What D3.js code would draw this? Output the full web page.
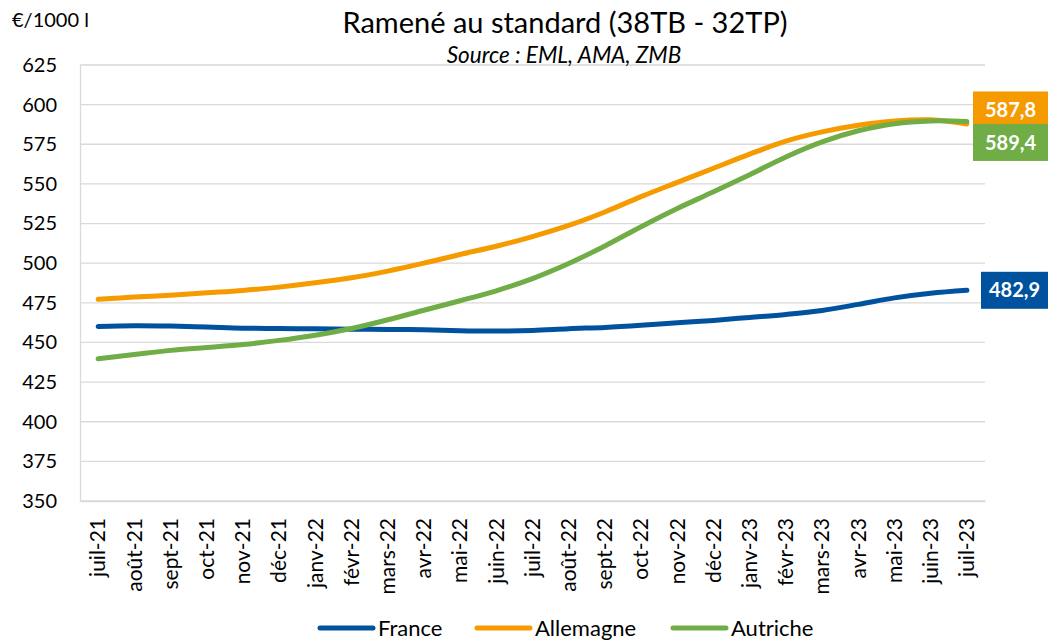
<!DOCTYPE html>
<html>
<head>
<meta charset="utf-8">
<script src="https://cdn.jsdelivr.net/npm/d3@7"></script>
<style>
  body { margin: 0; background: #fff; }
  svg { font-family: Lato, "Open Sans", sans-serif; }
</style>
</head>
<body>
<svg id="chart" width="1048" height="640"></svg>
<script>
// months on the x axis
const months = ['juil-21', 'août-21', 'sept-21', 'oct-21', 'nov-21', 'déc-21', 'janv-22', 'févr-22',
    'mars-22', 'avr-22', 'mai-22', 'juin-22', 'juil-22', 'août-22', 'sept-22', 'oct-22', 'nov-22',
    'déc-22', 'janv-23', 'févr-23', 'mars-23', 'avr-23', 'mai-23', 'juin-23', 'juil-23'];

// prices in €/1000 l
const france = [460.1, 460.5, 460.3, 459.7, 459.0, 458.8, 458.6, 458.4, 458.2, 458.0, 457.4, 457.2,
    457.6, 458.7, 459.5, 460.8, 462.4, 463.9, 465.8, 467.7, 470.2, 474.0, 478.1, 481.0, 482.9];
const allemagne = [477.2, 478.6, 479.8, 481.3, 482.8, 484.9, 487.6, 490.8, 495.0, 500.0, 505.5, 510.7,
    516.8, 523.8, 532.3, 542.0, 551.0, 559.9, 568.8, 577.0, 582.8, 587.0, 589.7, 590.4, 587.8];
const autriche = [439.7, 442.4, 445.0, 446.8, 448.7, 451.3, 454.6, 458.8, 464.3, 470.3, 476.3, 482.6,
    490.3, 499.8, 510.9, 523.0, 534.5, 545.0, 555.8, 567.0, 576.5, 583.5, 588.0, 589.7, 589.4];

const yTicks = [350, 375, 400, 425, 450, 475, 500, 525, 550, 575, 600, 625];

const series = [
    { name: 'France', values: france, color: '#00529f', last: '482,9', shift: 0 },
    { name: 'Allemagne', values: allemagne, color: '#f59b00', last: '587,8', shift: -14 },
    { name: 'Autriche', values: autriche, color: '#70ad47', last: '589,4', shift: 21 }
];

const svg = d3.select('#chart');
const plotLeft = 80, plotRight = 985, plotTop = 65, plotBottom = 501;

const x = d3.scaleBand().domain(months).range([plotLeft, plotRight]);
const y = d3.scaleLinear().domain([350, 625]).range([plotBottom, plotTop]);

// grid lines
svg.append('g').selectAll('line').data(yTicks).join('line')
    .attr('x1', plotLeft).attr('x2', plotRight)
    .attr('y1', d => y(d)).attr('y2', d => y(d))
    .attr('stroke', '#d9d9d9').attr('stroke-width', 1.3);

// y axis
const yAxis = svg.append('g').attr('transform', `translate(${plotLeft},0)`)
    .call(d3.axisLeft(y).tickValues(yTicks).tickSize(0).tickPadding(23));
yAxis.select('.domain').attr('stroke', '#d9d9d9').attr('stroke-width', 1.3);
yAxis.selectAll('text').attr('font-size', 20).attr('fill', '#000')
    .attr('font-family', 'Lato, sans-serif');

// x axis
const xAxis = svg.append('g').attr('transform', `translate(0,${plotBottom})`)
    .call(d3.axisBottom(x).tickSize(0).tickPadding(0));
xAxis.select('.domain').attr('stroke', '#d9d9d9').attr('stroke-width', 1.3);
xAxis.selectAll('text')
    .attr('font-size', 21).attr('fill', '#000').attr('font-family', 'Lato, sans-serif')
    .attr('text-anchor', 'end').attr('dy', '0.35em')
    .attr('transform', 'translate(0,17) rotate(-90)').attr('x', 0).attr('y', 0);

// lines
const line = d3.line()
    .x((d, i) => x(months[i]) + x.bandwidth() / 2)
    .y(d => y(d))
    .curve(d3.curveCatmullRom);

series.forEach(s => {
    svg.append('path').datum(s.values)
        .attr('fill', 'none').attr('stroke', s.color)
        .attr('stroke-width', 5).attr('stroke-linecap', 'round')
        .attr('d', line);
});

// end labels
series.forEach(s => {
    const cy = y(s.values[s.values.length - 1]) + s.shift;
    const w = s.name === 'France' ? 67 : 75;
    svg.append('rect')
        .attr('x', 1048 - w).attr('y', cy - 18.5)
        .attr('width', w).attr('height', 37)
        .attr('fill', s.color);
    svg.append('text')
        .attr('x', 1048 - w / 2).attr('y', cy).attr('dy', '0.36em')
        .attr('text-anchor', 'middle').attr('fill', '#fff')
        .attr('font-size', 20).attr('font-weight', 'bold')
        .text(s.last);
});

// title, source, unit
svg.append('text').attr('x', 565).attr('y', 33).attr('text-anchor', 'middle')
    .attr('font-size', 29).text('Ramené au standard (38TB - 32TP)');
svg.append('text').attr('x', 564).attr('y', 63).attr('text-anchor', 'middle')
    .attr('font-size', 22.5).attr('font-style', 'italic').text('Source : EML, AMA, ZMB');
svg.append('text').attr('x', 12).attr('y', 27)
    .attr('font-size', 20).text('€/1000 l');

// legend
const legendX = [320, 477, 673];
series.forEach((s, i) => {
    svg.append('line')
        .attr('x1', legendX[i]).attr('x2', legendX[i] + 53)
        .attr('y1', 628).attr('y2', 628)
        .attr('stroke', s.color).attr('stroke-width', 5).attr('stroke-linecap', 'round');
    svg.append('text').attr('x', legendX[i] + 58).attr('y', 628).attr('dy', '0.36em')
        .attr('font-size', 22).text(s.name);
});
</script>
</body>
</html>
